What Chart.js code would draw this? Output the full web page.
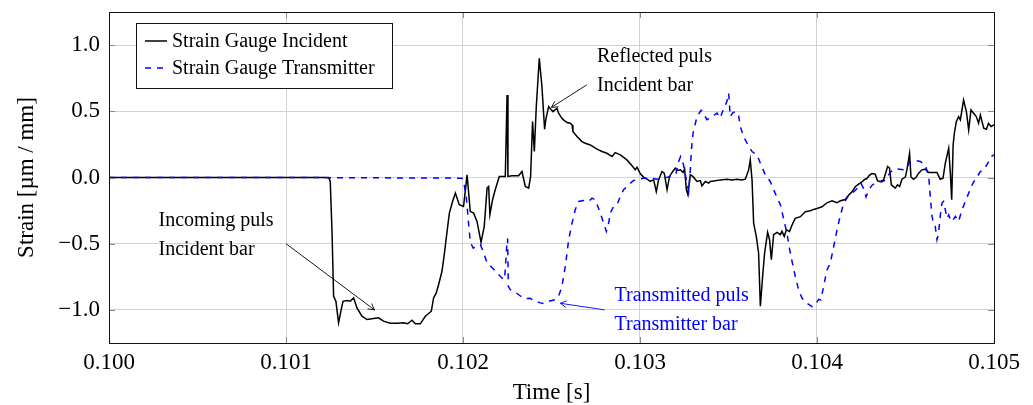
<!DOCTYPE html>
<html>
<head>
<meta charset="utf-8">
<script src="https://cdn.jsdelivr.net/npm/chart.js@4.4.1/dist/chart.umd.min.js"></script>
<style>
html,body{margin:0;padding:0;background:#fff;}
#wrap{width:1033px;height:405px;}
</style>
</head>
<body>
<div id="wrap"><canvas id="c" width="1033" height="405"></canvas></div>
<script>
// ---- data ----
const xTicks = [0.100, 0.101, 0.102, 0.103, 0.104, 0.105];
const yTicks = [-1.0, -0.5, 0.0, 0.5, 1.0];
const seriesNames = ['Strain Gauge Incident', 'Strain Gauge Transmitter'];

// [time (s), strain (µm/mm)]
const incident = [
 [0.100000,0],[0.100600,0],[0.101241,0],[0.101250,-0.03],[0.101260,-0.407],[0.101269,-0.897],
 [0.101282,-0.935],[0.101297,-1.098],[0.101310,-1.01],[0.101322,-0.935],[0.101345,-0.93],[0.101363,-0.935],
 [0.101382,-0.91],[0.101401,-0.985],[0.101429,-1.048],[0.101458,-1.073],[0.101495,-1.065],[0.101523,-1.06],
 [0.101551,-1.085],[0.101589,-1.10],[0.101627,-1.10],[0.101665,-1.098],[0.101687,-1.105],[0.101712,-1.078],
 [0.101731,-1.105],[0.101759,-1.105],[0.101787,-1.048],[0.101821,-1.01],[0.101834,-0.91],[0.101849,-0.872],
 [0.101862,-0.81],[0.101881,-0.71],[0.101894,-0.585],[0.101910,-0.407],[0.101923,-0.269],[0.101941,-0.181],
 [0.101957,-0.118],[0.101979,-0.206],[0.102003,-0.219],[0.102023,0.02],[0.102041,-0.256],[0.102060,-0.269],
 [0.102079,-0.332],[0.102102,-0.49],[0.102120,-0.369],[0.102136,-0.08],[0.102145,-0.068],[0.102152,-0.281],
 [0.102167,-0.168],[0.102182,-0.093],[0.102205,0.008],[0.102239,0.008],[0.102249,0.623],[0.102254,0.008],
 [0.102277,0.013],[0.102314,0.013],[0.102333,0.045],[0.102352,-0.068],[0.102371,-0.08],[0.102382,0.008],
 [0.102393,0.422],[0.102403,0.196],[0.102414,0.535],[0.102431,0.90],[0.102446,0.686],[0.102461,0.364],
 [0.102469,0.447],[0.102484,0.535],[0.102508,0.497],[0.102531,0.523],[0.102540,0.485],[0.102559,0.447],
 [0.102568,0.435],[0.102588,0.415],[0.102606,0.41],[0.102616,0.397],[0.102621,0.347],[0.102644,0.309],
 [0.102672,0.271],[0.102691,0.259],[0.102719,0.246],[0.102757,0.214],[0.102785,0.196],[0.102813,0.183],
 [0.102842,0.158],[0.102860,0.188],[0.102889,0.171],[0.102926,0.133],[0.102955,0.088],[0.102973,0.058],
 [0.102983,0.078],[0.103002,0.028],[0.103020,0.003],[0.103040,-0.013],[0.103058,-0.03],[0.103077,-0.018],
 [0.103092,-0.106],[0.103105,-0.018],[0.103124,0.045],[0.103137,0.033],[0.103153,-0.093],[0.103167,0.008],
 [0.103181,0.038],[0.103199,0.07],[0.103212,0.053],[0.103228,0.058],[0.103243,0.038],[0.103252,0.063],
 [0.103262,-0.093],[0.103271,-0.131],[0.103284,0.02],[0.103299,0.008],[0.103322,-0.03],[0.103341,-0.023],
 [0.103350,-0.063],[0.103369,-0.03],[0.103388,-0.043],[0.103397,-0.03],[0.103425,-0.025],[0.103454,-0.018],
 [0.103491,-0.013],[0.103520,-0.018],[0.103548,-0.013],[0.103576,-0.018],[0.103595,-0.013],[0.103614,0.058],
 [0.103623,0.133],[0.103633,-0.018],[0.103642,-0.344],[0.103657,-0.445],[0.103670,-0.570],[0.103680,-0.972],
 [0.103693,-0.746],[0.103704,-0.570],[0.103721,-0.414],[0.103732,-0.470],[0.103742,-0.621],[0.103755,-0.432],
 [0.103774,-0.414],[0.103793,-0.432],[0.103802,-0.407],[0.103815,-0.445],[0.103827,-0.395],[0.103845,-0.407],
 [0.103859,-0.359],[0.103877,-0.309],[0.103906,-0.296],[0.103934,-0.259],[0.103962,-0.251],[0.103981,-0.241],
 [0.104000,-0.234],[0.104028,-0.221],[0.104056,-0.191],[0.104085,-0.176],[0.104113,-0.191],[0.104132,-0.176],
 [0.104160,-0.166],[0.104179,-0.133],[0.104198,-0.108],[0.104216,-0.07],[0.104235,-0.05],[0.104254,-0.033],
 [0.104269,-0.015],[0.104282,-0.008],[0.104297,0.018],[0.104311,0.03],[0.104329,0.025],[0.104342,-0.025],
 [0.104358,-0.03],[0.104376,-0.018],[0.104399,0.083],[0.104410,0.07],[0.104420,-0.055],[0.104442,-0.08],
 [0.104455,-0.055],[0.104467,-0.068],[0.104480,-0.013],[0.104499,0.003],[0.104508,0.058],[0.104523,0.183],
 [0.104531,0.003],[0.104546,-0.013],[0.104561,0.003],[0.104574,0.033],[0.104593,0.058],[0.104612,0.063],
 [0.104631,0.038],[0.104650,0.038],[0.104678,0.038],[0.104696,-0.013],[0.104712,-0.005],[0.104725,0.108],
 [0.104744,0.221],[0.104754,0.02],[0.104761,-0.168],[0.104769,0.246],[0.104776,0.334],[0.104787,0.422],
 [0.104800,0.46],[0.104810,0.435],[0.104828,0.585],[0.104844,0.497],[0.104857,0.359],[0.104870,0.51],
 [0.104885,0.485],[0.104900,0.46],[0.104913,0.41],[0.104923,0.472],[0.104942,0.372],[0.104957,0.365],
 [0.104969,0.41],[0.104983,0.385],[0.105000,0.397]
];

const transmitter = [
 [0.100000,0],[0.101000,0],[0.101994,-0.005],[0.102007,-0.055],[0.102019,-0.156],[0.102032,-0.35],
 [0.102041,-0.49],[0.102058,-0.533],[0.102079,-0.515],[0.102098,-0.508],[0.102116,-0.565],[0.102136,-0.645],
 [0.102164,-0.68],[0.102192,-0.721],[0.102220,-0.759],[0.102235,-0.771],[0.102247,-0.52],[0.102252,-0.46],
 [0.102256,-0.822],[0.102267,-0.847],[0.102295,-0.865],[0.102324,-0.895],[0.102350,-0.915],[0.102380,-0.912],
 [0.102408,-0.935],[0.102437,-0.947],[0.102455,-0.952],[0.102484,-0.935],[0.102521,-0.922],[0.102540,-0.897],
 [0.102559,-0.822],[0.102578,-0.671],[0.102597,-0.470],[0.102616,-0.344],[0.102634,-0.244],[0.102653,-0.181],
 [0.102681,-0.173],[0.102710,-0.181],[0.102729,-0.156],[0.102747,-0.168],[0.102776,-0.269],[0.102794,-0.344],
 [0.102810,-0.407],[0.102823,-0.344],[0.102832,-0.269],[0.102851,-0.219],[0.102870,-0.206],[0.102889,-0.143],
 [0.102907,-0.093],[0.102936,-0.055],[0.102964,-0.023],[0.102992,-0.013],[0.103020,-0.005],[0.103058,-0.005],
 [0.103096,-0.013],[0.103133,-0.005],[0.103171,0.008],[0.103203,0.03],[0.103218,0.12],[0.103229,0.158],
 [0.103245,0.10],[0.103262,-0.02],[0.103275,-0.105],[0.103284,0.05],[0.103290,0.2],[0.103299,0.33],
 [0.103322,0.46],[0.103345,0.508],[0.103359,0.487],[0.103378,0.437],[0.103397,0.45],[0.103416,0.467],
 [0.103435,0.487],[0.103454,0.45],[0.103463,0.487],[0.103476,0.525],[0.103491,0.575],[0.103501,0.636],
 [0.103510,0.46],[0.103525,0.49],[0.103544,0.497],[0.103557,0.472],[0.103567,0.384],[0.103585,0.309],
 [0.103605,0.259],[0.103633,0.196],[0.103661,0.171],[0.103680,0.108],[0.103708,0.02],[0.103736,-0.03],
 [0.103764,-0.12],[0.103793,-0.205],[0.103811,-0.31],[0.103830,-0.42],[0.103845,-0.54],[0.103859,-0.633],
 [0.103877,-0.746],[0.103896,-0.847],[0.103915,-0.91],[0.103943,-0.95],[0.103972,-0.975],[0.103990,-0.962],
 [0.104009,-0.92],[0.104022,-0.925],[0.104037,-0.824],[0.104056,-0.698],[0.104075,-0.648],[0.104094,-0.523],
 [0.104113,-0.397],[0.104132,-0.284],[0.104151,-0.196],[0.104173,-0.146],[0.104198,-0.121],[0.104226,-0.083],
 [0.104249,-0.045],[0.104263,-0.083],[0.104277,-0.146],[0.104292,-0.095],[0.104311,-0.058],[0.104339,-0.033],
 [0.104367,-0.033],[0.104386,-0.02],[0.104414,0.04],[0.104442,0.065],[0.104499,0.058],[0.104527,0.121],
 [0.104556,0.128],[0.104584,0.121],[0.104612,0.095],[0.104631,0.008],[0.104640,-0.143],[0.104650,-0.294],
 [0.104659,-0.357],[0.104668,-0.369],[0.104678,-0.470],[0.104687,-0.420],[0.104696,-0.294],[0.104706,-0.193],
 [0.104715,-0.181],[0.104725,-0.244],[0.104734,-0.307],[0.104744,-0.282],[0.104757,-0.332],[0.104769,-0.319],
 [0.104782,-0.294],[0.104800,-0.332],[0.104819,-0.244],[0.104838,-0.181],[0.104857,-0.118],[0.104881,-0.043],
 [0.104904,0.003],[0.104923,0.045],[0.104942,0.058],[0.104965,0.108],[0.104983,0.158],[0.105000,0.171]
];

// text annotations: text lines with baselines (data coords) and arrow (from -> to, data coords)
const notes = [
 {lines:['Incoming puls','Incident bar'], x:0.10028, ys:[-0.364,-0.583], color:'#000000', arrow:[0.101,-0.5,0.1015,-1.0]},
 {lines:['Reflected puls','Incident bar'], x:0.102757, ys:[0.870,0.654], color:'#000000', arrow:[0.1027,0.7,0.1025,0.53]},
 {lines:['Transmitted puls','Transmitter bar'], x:0.102856, ys:[-0.935,-1.149], color:'#0000ff', arrow:[0.1028,-1.0,0.10255,-0.95]}
];

const SERIF = "'Liberation Serif', 'Times New Roman', serif";

const decorPlugin = {
  id: 'decor',
  afterDatasetsDraw(chart) {
    const {ctx, chartArea: a, scales: {x, y}} = chart;
    ctx.save();
    // tick marks inside the frame
    ctx.strokeStyle = '#8a8a8a';
    ctx.lineWidth = 1;
    ctx.beginPath();
    xTicks.forEach(v => {
      const px = Math.round(x.getPixelForValue(v)) + 0.5;
      ctx.moveTo(px, a.bottom); ctx.lineTo(px, a.bottom - 6);
      ctx.moveTo(px, a.top); ctx.lineTo(px, a.top + 6);
    });
    yTicks.forEach(v => {
      const py = Math.round(y.getPixelForValue(v)) + 0.5;
      ctx.moveTo(a.left, py); ctx.lineTo(a.left + 6, py);
      ctx.moveTo(a.right, py); ctx.lineTo(a.right - 6, py);
    });
    ctx.stroke();
    // frame
    ctx.strokeStyle = '#111';
    ctx.lineWidth = 1;
    ctx.strokeRect(Math.round(a.left) + 0.5, Math.round(a.top) + 0.5, Math.round(a.right - a.left), Math.round(a.bottom - a.top));

    // annotations
    ctx.font = '20px ' + SERIF;
    ctx.textAlign = 'left';
    ctx.textBaseline = 'alphabetic';
    notes.forEach(n => {
      ctx.fillStyle = n.color;
      n.lines.forEach((t, i) => ctx.fillText(t, x.getPixelForValue(n.x), y.getPixelForValue(n.ys[i])));
      const x0 = x.getPixelForValue(n.arrow[0]), y0 = y.getPixelForValue(n.arrow[1]);
      const x1 = x.getPixelForValue(n.arrow[2]), y1 = y.getPixelForValue(n.arrow[3]);
      ctx.strokeStyle = n.color;
      ctx.lineWidth = 0.9;
      ctx.beginPath();
      ctx.moveTo(x0, y0); ctx.lineTo(x1, y1);
      const ang = Math.atan2(y1 - y0, x1 - x0);
      const L = 7, w = 0.5;
      ctx.moveTo(x1 - L * Math.cos(ang - w), y1 - L * Math.sin(ang - w));
      ctx.lineTo(x1, y1);
      ctx.lineTo(x1 - L * Math.cos(ang + w), y1 - L * Math.sin(ang + w));
      ctx.stroke();
    });

    // legend box
    const bx = 136.5, by = 23.5, bw = 256, bh = 65;
    ctx.fillStyle = '#fff';
    ctx.fillRect(bx, by, bw, bh);
    ctx.strokeStyle = '#111';
    ctx.lineWidth = 1;
    ctx.strokeRect(bx, by, bw, bh);
    const rows = [41, 68];
    chart.data.datasets.forEach((ds, i) => {
      ctx.strokeStyle = ds.borderColor;
      ctx.lineWidth = 1.5;
      ctx.setLineDash(ds.borderDash || []);
      ctx.beginPath();
      ctx.moveTo(145, rows[i]); ctx.lineTo(167, rows[i]);
      ctx.stroke();
      ctx.setLineDash([]);
      ctx.fillStyle = '#000';
      ctx.textBaseline = 'middle';
      ctx.fillText(ds.label, 172, rows[i] + 1);
    });
    ctx.restore();
  }
};

new Chart(document.getElementById('c'), {
  type: 'scatter',
  data: {
    datasets: [
      {label: seriesNames[0], data: incident.map(([t, s]) => ({x: t, y: s})), showLine: true,
       borderColor: '#000000', borderWidth: 1.5, pointRadius: 0, tension: 0, order: 2},
      {label: seriesNames[1], data: transmitter.map(([t, s]) => ({x: t, y: s})), showLine: true,
       borderColor: '#0000ff', borderWidth: 1.5, borderDash: [6, 6], pointRadius: 0, tension: 0, order: 1}
    ]
  },
  options: {
    responsive: false,
    animation: false,
    devicePixelRatio: 1,
    layout: {padding: {top: 12, right: 39, left: 0, bottom: 0}},
    plugins: {legend: {display: false}, tooltip: {enabled: false}},
    scales: {
      x: {
        type: 'linear', min: 0.100, max: 0.105,
        afterBuildTicks: s => { s.ticks = xTicks.map(v => ({value: v})); },
        afterFit: s => { s.height = 62; s.paddingLeft = 0; s.paddingRight = 0; },
        grid: {color: '#d2d2d2', lineWidth: 1, drawTicks: false},
        border: {display: false},
        ticks: {padding: 6, color: '#000', font: {family: SERIF, size: 23}, maxRotation: 0, autoSkip: false,
                callback: v => v.toFixed(3)},
        title: {display: true, text: 'Time [s]', color: '#000', font: {family: SERIF, size: 23, lineHeight: 1},
                padding: {top: 0, bottom: 1}}
      },
      y: {
        type: 'linear', min: -1.25, max: 1.25,
        afterBuildTicks: s => { s.ticks = yTicks.map(v => ({value: v})); },
        afterFit: s => { s.width = 109; s.paddingTop = 0; s.paddingBottom = 0; },
        grid: {color: '#d2d2d2', lineWidth: 1, drawTicks: false},
        border: {display: false},
        ticks: {padding: 9, color: '#000', font: {family: SERIF, size: 23},
                callback: v => (v < 0 ? '\u2212' : '') + Math.abs(v).toFixed(1)},
        title: {display: true, text: 'Strain [\u00b5m / mm]', color: '#000', font: {family: SERIF, size: 23, lineHeight: 1},
                padding: {top: 15, bottom: 0}}
      }
    }
  },
  plugins: [decorPlugin]
});
</script>
</body>
</html>
